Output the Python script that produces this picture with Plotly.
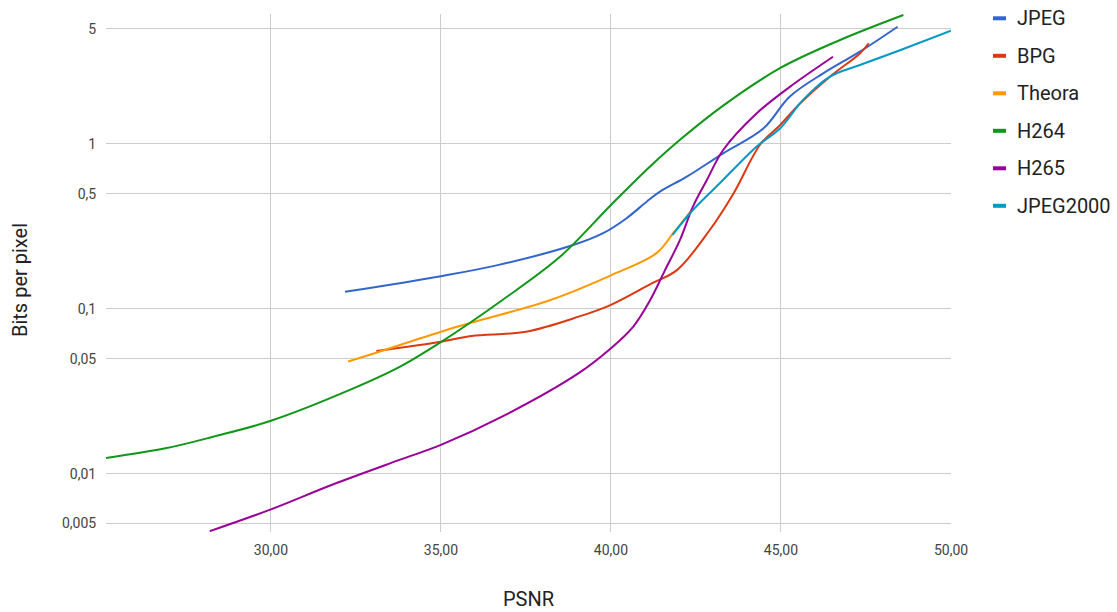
import plotly.graph_objects as go

# Rate-distortion curves: PSNR (dB) against bits per pixel
codecs = ["JPEG", "BPG", "Theora", "H264", "H265", "JPEG2000"]
colors = ["#3366CC", "#DC3912", "#FF9900", "#109618", "#990099", "#0099C6"]

jpeg_psnr = [32.18, 35.0, 36.7, 38.89, 39.77, 40.46, 41.05, 41.44, 42.23, 43.3, 44.48, 45.26, 46.24, 47.32, 48.43]
jpeg_bpp = [0.127, 0.158, 0.185, 0.244, 0.288, 0.355, 0.447, 0.514, 0.634, 0.878, 1.24, 1.94, 2.68, 3.63, 5.14]

bpg_psnr = [33.1, 35.0, 35.9, 37.5, 39.05, 40.0, 41.2, 41.94, 42.9, 43.6, 44.4, 44.97, 45.56, 46.44, 47.32, 47.58]
bpg_bpp = [0.0557, 0.0633, 0.0686, 0.0728, 0.0898, 0.106, 0.143, 0.172, 0.3, 0.5, 1.0, 1.3, 1.76, 2.56, 3.54, 4.08]

theora_psnr = [32.27, 33.1, 35.0, 35.9, 38.2, 40.0, 41.34, 41.83, 42.37]
theora_bpp = [0.048, 0.0543, 0.0728, 0.0826, 0.113, 0.16, 0.218, 0.288, 0.398]

h264_psnr = [25.15, 26.9, 28.3, 30.0, 32.32, 33.8, 35.0, 36.8, 38.5, 40.0, 41.15, 42.03, 43.25, 44.97, 46.74, 48.6]
h264_bpp = [0.0125, 0.0143, 0.0168, 0.021, 0.0323, 0.0447, 0.063, 0.113, 0.207, 0.427, 0.73, 1.06, 1.68, 2.88, 4.27, 6.05]

h265_psnr = [28.2, 30.0, 31.8, 33.8, 35.0, 36.9, 39.05, 40.0, 40.65, 41.15, 41.59, 42.03, 42.41, 42.82, 43.3, 44.28, 45.26, 46.53]
h265_bpp = [0.0045, 0.0061, 0.0086, 0.0122, 0.015, 0.0228, 0.0408, 0.0578, 0.078, 0.113, 0.172, 0.262, 0.417, 0.605, 0.92, 1.53, 2.22, 3.38]

j2k_psnr = [41.81, 42.41, 43.2, 44.28, 44.97, 45.65, 46.44, 47.32, 48.5, 50.0]
j2k_bpp = [0.281, 0.398, 0.578, 0.963, 1.24, 1.85, 2.56, 3.01, 3.7, 4.86]

series_psnr = [jpeg_psnr, bpg_psnr, theora_psnr, h264_psnr, h265_psnr, j2k_psnr]
series_bpp = [jpeg_bpp, bpg_bpp, theora_bpp, h264_bpp, h265_bpp, j2k_bpp]

x_ticks = [30, 35, 40, 45, 50]
y_ticks = [0.005, 0.01, 0.05, 0.1, 0.5, 1, 5]
y_tick_text = ["0,005", "0,01", "0,05", "0,1", "0,5", "1", "5"]

FONT = "Roboto, 'Open Sans', sans-serif"

fig = go.Figure()
for name, color, xs, ys in zip(codecs, colors, series_psnr, series_bpp):
    fig.add_trace(go.Scatter(
        x=xs, y=ys, name=name, mode="lines",
        line=dict(color=color, width=2, shape="spline", smoothing=1.0),
        showlegend=False,
    ))

# plot area geometry (pixels)
W, H = 1117, 612
L, R, T, B = 106, 166, 14, 80
plot_w = W - L - R
plot_h = H - T - B


def px_x(p):
    return (p - L) / plot_w


def px_y(p):
    return (H - B - p) / plot_h


# legend drawn as short colour dashes with labels to the right of the plot
legend_shapes = []
notes = []
for i, (name, color) in enumerate(zip(codecs, colors)):
    py = px_y(18.3 + i * 37.5)
    legend_shapes.append(dict(type="line", xref="paper", yref="paper",
                              x0=px_x(993), x1=px_x(1006), y0=py, y1=py,
                              line=dict(color=color, width=4)))
    notes.append(dict(xref="paper", yref="paper", x=px_x(1015), y=py,
                      text=name, showarrow=False, xanchor="left", yanchor="middle",
                      font=dict(family=FONT, size=20, color="#222222")))

# vertical axis title
notes.append(dict(xref="paper", yref="paper", x=px_x(20), y=px_y(280),
                  text="Bits per pixel", textangle=-90, showarrow=False,
                  xanchor="center", yanchor="middle",
                  font=dict(family=FONT, size=20, color="#222222")))

fig.update_layout(
    width=W, height=H,
    margin=dict(l=L, r=R, t=T, b=B, autoexpand=False),
    paper_bgcolor="white", plot_bgcolor="white",
    separators=",.",
    font=dict(family=FONT, color="#444444"),
    shapes=legend_shapes,
    annotations=notes,
    xaxis=dict(
        range=[25.15, 50.0],
        tickvals=x_ticks, tickformat=".2f",
        showgrid=True, gridcolor="#cccccc", gridwidth=1,
        zeroline=False, showline=False,
        ticks="outside", ticklen=5, tickcolor="rgba(0,0,0,0)",
        tickfont=dict(family=FONT, size=14, color="#444444"),
        title=dict(text="PSNR", standoff=35, font=dict(family=FONT, size=20, color="#222222")),
        automargin=False,
    ),
    yaxis=dict(
        type="log",
        range=[-2.352, 0.788],
        tickvals=y_ticks, ticktext=y_tick_text,
        showgrid=True, gridcolor="#cccccc", gridwidth=1,
        zeroline=False, showline=False,
        ticks="outside", ticklen=6, tickcolor="rgba(0,0,0,0)",
        tickfont=dict(family=FONT, size=14, color="#444444"),
        automargin=False,
    ),
)

fig.write_html("out.html")
